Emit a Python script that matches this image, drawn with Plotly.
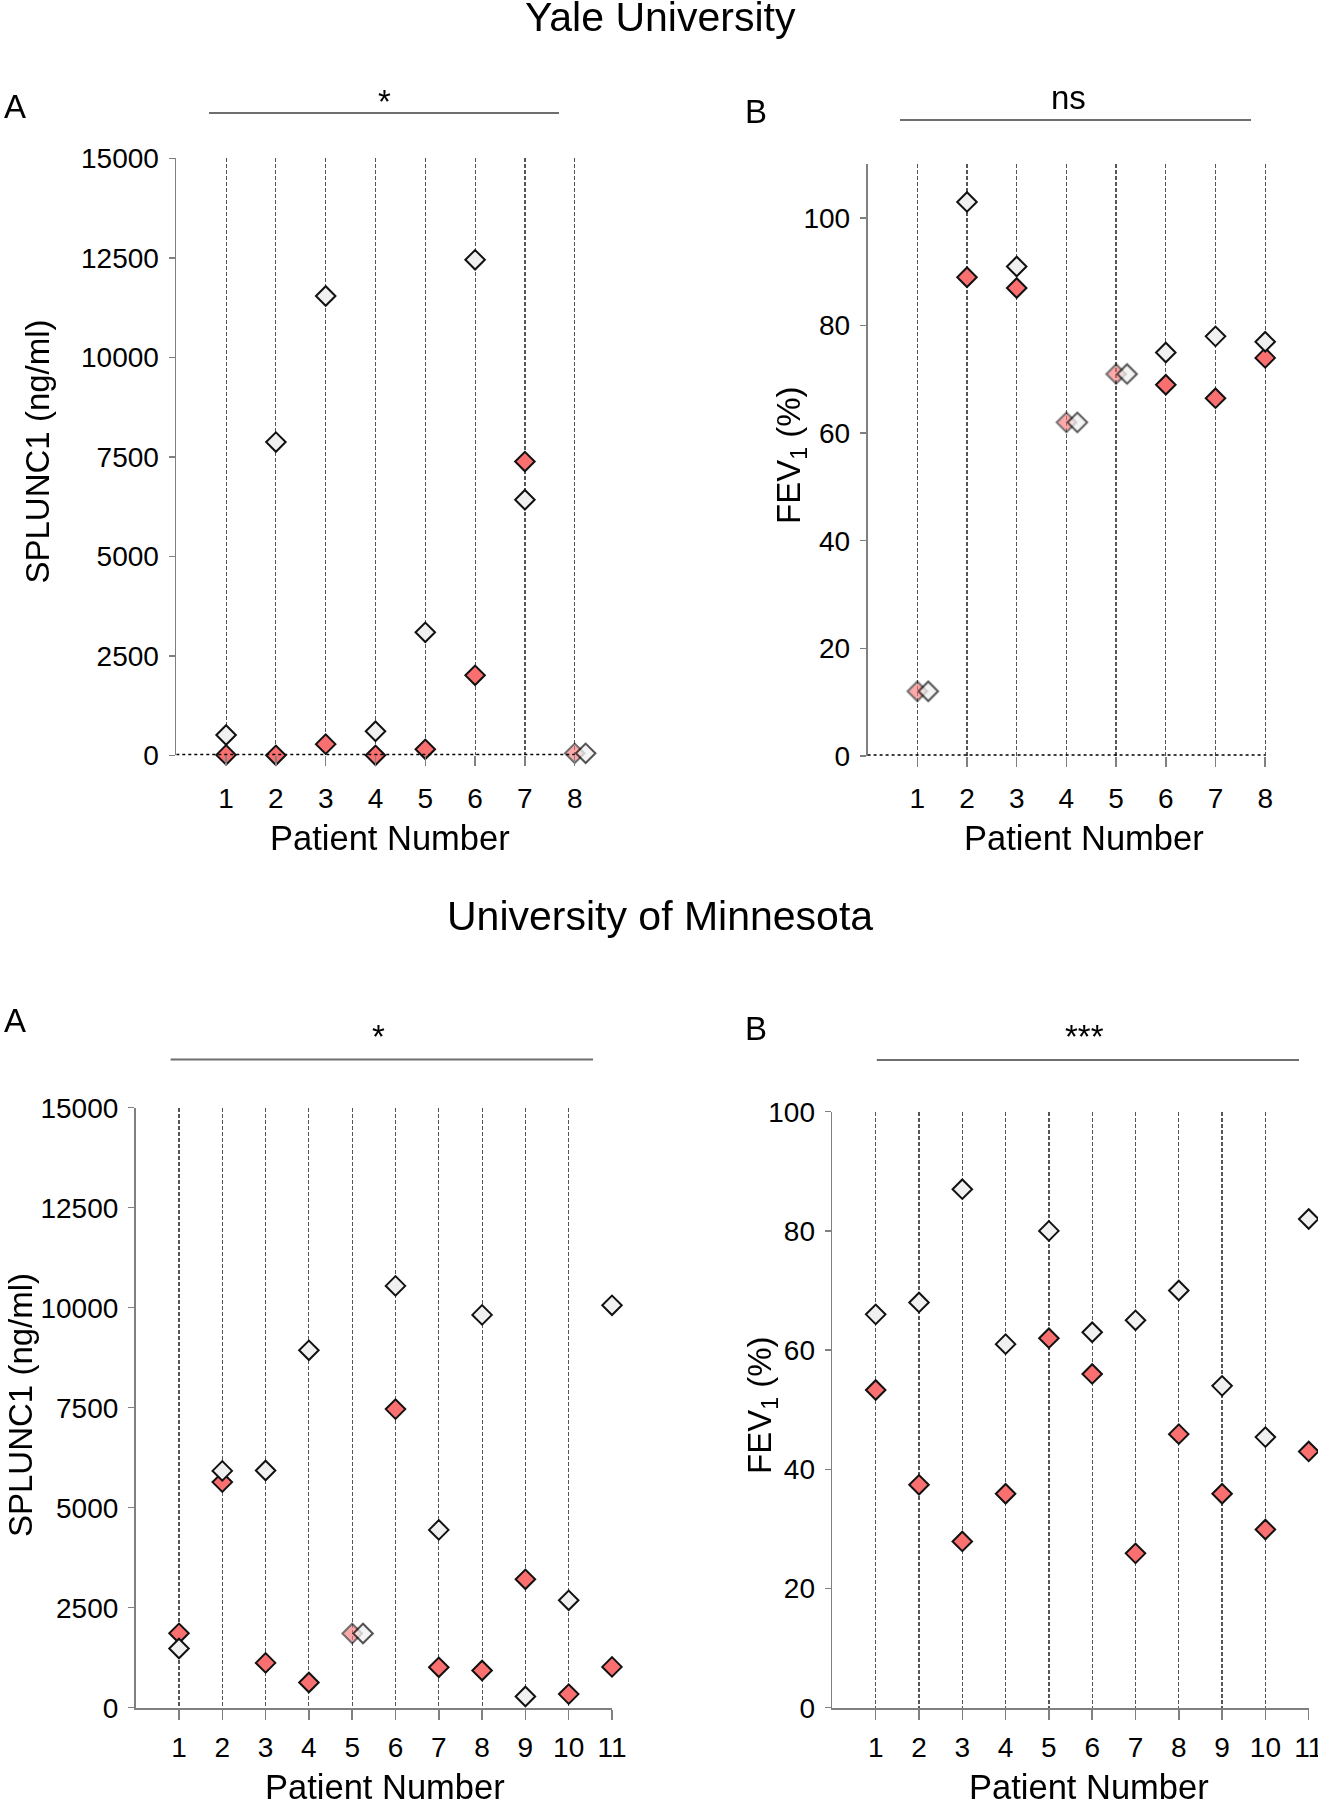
import plotly.graph_objects as go

# ---------------- data ----------------
yale_patients = [1, 2, 3, 4, 5, 6, 7, 8]
yale_splunc_red = [10, 0, 280, 0, 150, 2010, 7380, 50]
yale_splunc_white = [510, 7870, 11540, 605, 3090, 12450, 6420, 50]
yale_fev_red = [12, 89, 87, 62, 71, 69, 66.5, 74]
yale_fev_white = [12, 103, 91, 62, 71, 75, 78, 77]

minn_patients = [1, 2, 3, 4, 5, 6, 7, 8, 9, 10, 11]
minn_splunc_red = [1860, 5640, 1120, 630, 1855, 7465, 1010, 930, 3210, 340, 1020]
minn_splunc_white = [1480, 5920, 5930, 8935, 1855, 10545, 4445, 9820, 280, 2685, 10060]
minn_fev_red = [53.3, 37.4, 27.9, 35.9, 62, 56, 25.9, 45.9, 35.9, 29.9, 43]
minn_fev_white = [66, 68, 87, 61, 80, 63, 65, 70, 54, 45.4, 82]

splunc_ticks = [0, 2500, 5000, 7500, 10000, 12500, 15000]
fev_ticks_yale = [0, 20, 40, 60, 80, 100]
fev_ticks_minn = [0, 20, 40, 60, 80, 100]

section_titles = ["Yale University", "University of Minnesota"]
sig_labels = ["*", "ns", "*", "***"]
panel_letters = ["A", "B", "A", "B"]

# ---------------- style ----------------
W, H = 1318, 1800
FONT = "Liberation Sans, Arial, sans-serif"
RED = "#FA7070"
WHITE = "#F0F0F0"
EDGE = "#111111"
AXIS_GRAY = "#808080"
GRID = "#555555"


def px(x):
    return x / W


def py(y):
    return 1 - y / H


fig = go.Figure()

panels = [
    dict(x=yale_patients, red=yale_splunc_red, white=yale_splunc_white, ymax=15000,
         yticks=splunc_ticks, x0px=176.3, step=49.8, extra=0.4, yd=(158.3, 755.3),
         nudge=0.22, top=True),
    dict(x=yale_patients, red=yale_fev_red, white=yale_fev_white, ymax=110,
         yticks=fev_ticks_yale, x0px=867.6, step=49.7, extra=0.4, yd=(164.3, 755.8),
         nudge=0.22, top=True),
    dict(x=minn_patients, red=minn_splunc_red, white=minn_splunc_white, ymax=15000,
         yticks=splunc_ticks, x0px=135.7, step=43.3, extra=0.0, yd=(1107.7, 1707.7),
         nudge=0.25, top=False),
    dict(x=minn_patients, red=minn_fev_red, white=minn_fev_white, ymax=100,
         yticks=fev_ticks_minn, x0px=832.4, step=43.3, extra=0.0, yd=(1111.7, 1707.7),
         nudge=0.25, top=False),
]

layout_axes = {}
shapes = []
for i, p in enumerate(panels, start=1):
    xs = "x" if i == 1 else f"x{i}"
    ys = "y" if i == 1 else f"y{i}"
    n = len(p["x"])
    xmax = n + p["extra"]
    tol = 0.005 * p["ymax"]
    nx_r, ny_r, nx_w, ny_w = [], [], [], []
    ox_r, oy_r, ox_w, oy_w = [], [], [], []
    for xv, r, w in zip(p["x"], p["red"], p["white"]):
        if abs(r - w) <= tol:
            ox_r.append(xv); oy_r.append(r)
            ox_w.append(xv + p["nudge"]); oy_w.append(w)
        else:
            nx_r.append(xv); ny_r.append(r)
            nx_w.append(xv); ny_w.append(w)
    mk = dict(symbol="diamond", size=15, line=dict(color=EDGE, width=2))
    if ox_r:
        fig.add_trace(go.Scatter(x=ox_r, y=oy_r, mode="markers", xaxis=xs, yaxis=ys,
                                 marker=dict(**mk, color=RED), opacity=0.6,
                                 cliponaxis=False, showlegend=False))
        fig.add_trace(go.Scatter(x=ox_w, y=oy_w, mode="markers", xaxis=xs, yaxis=ys,
                                 marker=dict(**mk, color=WHITE), opacity=0.72,
                                 cliponaxis=False, showlegend=False))
    fig.add_trace(go.Scatter(x=nx_r, y=ny_r, mode="markers", xaxis=xs, yaxis=ys,
                             marker=dict(**mk, color=RED),
                             cliponaxis=False, showlegend=False))
    fig.add_trace(go.Scatter(x=nx_w, y=ny_w, mode="markers", xaxis=xs, yaxis=ys,
                             marker=dict(**mk, color=WHITE),
                             cliponaxis=False, showlegend=False))

    xkey = "xaxis" if i == 1 else f"xaxis{i}"
    ykey = "yaxis" if i == 1 else f"yaxis{i}"
    xd0 = p["x0px"]
    xd1 = p["x0px"] + p["step"] * xmax
    layout_axes[xkey] = dict(
        domain=[px(xd0), px(xd1)], anchor=ys, automargin=False,
        range=[0, xmax], tickmode="array", tickvals=p["x"],
        ticktext=[str(v) for v in p["x"]],
        showgrid=True, gridcolor=GRID, griddash="4px,2px", gridwidth=1.2,
        ticks="outside", ticklen=10, tickwidth=1.5, tickcolor=AXIS_GRAY,
        showline=not p["top"], linecolor=AXIS_GRAY, linewidth=2,
        zeroline=False, fixedrange=True, ticklabeloverflow="allow",
        ticklabelstandoff=8 if p["top"] else 4,
        tickfont=dict(family=FONT, size=28, color="black"),
    )
    layout_axes[ykey] = dict(
        domain=[py(p["yd"][1]), py(p["yd"][0])], anchor=xs, automargin=False,
        range=[0, p["ymax"]], tickmode="array", tickvals=p["yticks"],
        ticktext=[str(v) for v in p["yticks"]],
        showgrid=False, zeroline=False, showline=True,
        linecolor=AXIS_GRAY, linewidth=1.8,
        ticks="outside", ticklen=6, tickwidth=1.5, tickcolor=AXIS_GRAY,
        ticklabelstandoff=4, fixedrange=True, ticklabeloverflow="allow",
        tickfont=dict(family=FONT, size=28, color="black"),
    )
    if p["top"]:
        shapes.append(dict(type="line", xref=xs, yref=ys, x0=0, x1=n,
                           y0=0, y1=0, line=dict(color="black", width=3, dash="dot"),
                           layer="above"))

# significance bars (pixel positions)
sig_bars = [((209, 559), 113), ((900, 1251), 120), ((170.6, 593), 1059.5), ((876.8, 1299), 1060)]
for (x0, x1), yy in sig_bars:
    shapes.append(dict(type="line", xref="paper", yref="paper", x0=px(x0), x1=px(x1),
                       y0=py(yy), y1=py(yy), line=dict(color="#6e6e6e", width=2)))

annotations = []


def add_text(text, x, y, size, xanchor="center", angle=0):
    annotations.append(dict(text=text, x=px(x), y=py(y), xref="paper", yref="paper",
                            showarrow=False, xanchor=xanchor, yanchor="middle",
                            textangle=angle,
                            font=dict(family=FONT, size=size, color="black")))


add_text(section_titles[0], 660, 17, 41)
add_text(section_titles[1], 660, 916, 41)

letter_pos = [(2, 107), (743, 112), (2, 1021), (743, 1028)]
for t, (x, y) in zip(panel_letters, letter_pos):
    add_text(t, x, y, 33, xanchor="left")

sig_pos = [(384, 102), (1068, 98), (378, 1036), (1084, 1036)]
for t, (x, y) in zip(sig_labels, sig_pos):
    add_text(t, x, y, 33)

xtitle_pos = [(390, 838), (1084, 838), (385, 1787), (1089, 1787)]
for x, y in xtitle_pos:
    add_text("Patient Number", x, y, 34.5)

ytitles = ["SPLUNC1 (ng/ml)", "FEV<sub>1</sub> (%)", "SPLUNC1 (ng/ml)", "FEV<sub>1</sub> (%)"]
ytitle_pos = [(37.5, 452), (791, 455), (20, 1405), (762, 1405)]
for t, (x, y) in zip(ytitles, ytitle_pos):
    add_text(t, x, y, 33, angle=-90)

fig.update_layout(
    width=W, height=H, margin=dict(l=0, r=0, t=0, b=0, autoexpand=False),
    paper_bgcolor="white", plot_bgcolor="white",
    font=dict(family=FONT, color="black"),
    showlegend=False, shapes=shapes, annotations=annotations,
    **layout_axes,
)

fig.write_html(
    "out.html",
    config={"displayModeBar": False, "staticPlot": True},
    post_script="document.body.style.margin='0';document.body.style.padding='0';"
                "document.body.style.overflow='hidden';"
                "document.documentElement.style.overflow='hidden';",
)
